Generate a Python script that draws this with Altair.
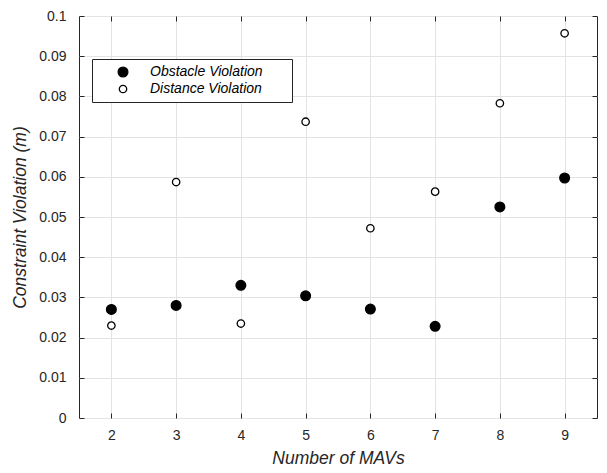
import altair as alt
import pandas as pd

mavs = [2, 3, 4, 5, 6, 7, 8, 9]
obstacle = [0.0270, 0.0280, 0.0330, 0.0304, 0.0271, 0.0228, 0.0525, 0.0597]
distance = [0.0230, 0.0587, 0.0235, 0.0737, 0.0472, 0.0563, 0.0783, 0.0957]
series_names = ["Obstacle Violation", "Distance Violation"]
x_ticks = [2, 3, 4, 5, 6, 7, 8, 9]
y_ticks = [0, 0.01, 0.02, 0.03, 0.04, 0.05, 0.06, 0.07, 0.08, 0.09, 0.1]

df = pd.DataFrame({
    "mavs": mavs + mavs,
    "value": obstacle + distance,
    "series": [series_names[0]] * len(mavs) + [series_names[1]] * len(mavs),
})

FONT = "Liberation Sans"
DARK = "#262626"

xscale = alt.Scale(domain=[1.5, 9.5], nice=False, zero=False)
yscale = alt.Scale(domain=[0, 0.1], nice=False)

common_axis = dict(
    domain=False, tickSize=5, offset=-5, tickColor=DARK, tickWidth=1,
    labelFont=FONT, labelFontSize=14, labelColor=DARK,
    titleFont=FONT, titleFontSize=17.5, titleFontStyle="italic",
    titleColor=DARK, titleFontWeight="normal",
    gridColor="#e3e3e3", gridWidth=1,
)
plain_axis = {k: v for k, v in common_axis.items() if not k.startswith("title")}

legend_opts = dict(
    title=None, orient="none", legendX=13, legendY=43,
    strokeColor=DARK, fillColor="white", padding=6,
    symbolOffset=18, labelOffset=20, rowPadding=2, labelLimit=400,
    labelFont=FONT, labelFontSize=14, labelFontStyle="italic", labelColor="black",
    labelExpr="datum.label + '" + "\u00a0" * 6 + "\u200d'",
    symbolStrokeColor="black", symbolStrokeWidth=1.3,
)

points = alt.Chart(df).mark_point(filled=True, strokeWidth=1.3, opacity=1).encode(
    x=alt.X("mavs:Q", scale=xscale,
            axis=alt.Axis(values=x_ticks, title="Number of MAVs", labelPadding=10,
                          titlePadding=7, grid=True, **common_axis)),
    y=alt.Y("value:Q", scale=yscale,
            axis=alt.Axis(values=y_ticks, format=".2~f", title="Constraint Violation (m)",
                          labelPadding=13, titlePadding=9, grid=True, **common_axis)),
    fill=alt.Fill("series:N", scale=alt.Scale(domain=series_names, range=["black", "white"]),
                  legend=alt.Legend(**legend_opts)),
    stroke=alt.Stroke("series:N", scale=alt.Scale(domain=series_names, range=["black", "black"]),
                      legend=alt.Legend(**legend_opts)),
    size=alt.Size("series:N", scale=alt.Scale(domain=series_names, range=[95, 55]),
                  legend=alt.Legend(**legend_opts)),
)

mirror = alt.Chart(df).mark_point(opacity=0).encode(
    x=alt.X("mavs:Q", scale=xscale,
            axis=alt.Axis(orient="top", values=x_ticks, labels=False, title=None, grid=False,
                          **plain_axis)),
    y=alt.Y("value:Q", scale=yscale,
            axis=alt.Axis(orient="right", values=y_ticks, labels=False, title=None, grid=False,
                          **plain_axis)),
)

chart = alt.layer(points, mirror).resolve_axis(x="independent", y="independent").properties(
    width=518, height=402,
    autosize=alt.AutoSizeParams(type="none"),
    padding={"left": 71, "top": 8, "right": 2, "bottom": 50},
    background="white",
).configure_view(stroke=DARK, strokeWidth=1)

chart.save("out.html", embed_options={"renderer": "svg", "actions": False})
